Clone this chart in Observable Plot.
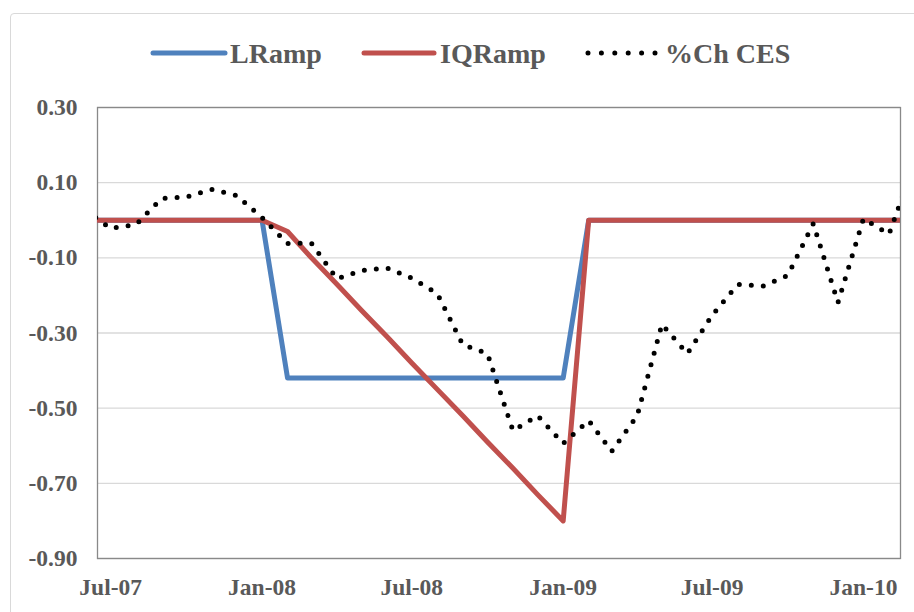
<!DOCTYPE html>
<html>
<head>
<meta charset="utf-8">
<script src="https://cdn.jsdelivr.net/npm/d3@7"></script>
<script src="https://cdn.jsdelivr.net/npm/@observablehq/plot@0.6"></script>
<style>
  html, body { margin: 0; padding: 0; background: #fff; overflow: hidden; }
  #wrap { position: relative; width: 914px; height: 612px; overflow: hidden; }
  #border { position: absolute; left: 10px; top: 13px; width: 940px; height: 640px; border: 1.5px solid #d9d9d9; border-radius: 4px; box-sizing: border-box; pointer-events: none; }
  #legend { display: block; }
  #chart svg { display: block; }
</style>
</head>
<body>
<div id="wrap">
  <div id="legend"></div>
  <div id="chart"></div>
  <div id="border"></div>
</div>
<script>
// ---- data ----
const months = [
  "2007-06","2007-07","2007-08","2007-09","2007-10","2007-11","2007-12",
  "2008-01","2008-02","2008-03","2008-04","2008-05","2008-06","2008-07","2008-08","2008-09","2008-10","2008-11","2008-12",
  "2009-01","2009-02","2009-03","2009-04","2009-05","2009-06","2009-07","2009-08","2009-09","2009-10","2009-11","2009-12",
  "2010-01","2010-02","2010-03"
];
const lramp = [
  0,0,0,0,0,0,0,
  0,-0.42,-0.42,-0.42,-0.42,-0.42,-0.42,-0.42,-0.42,-0.42,-0.42,-0.42,
  -0.42,0,0,0,0,0,0,0,0,0,0,0,
  0,0,0
];
const iqramp = [
  0,0,0,0,0,0,0,
  0,-0.03,-0.10,-0.17,-0.24,-0.31,-0.38,-0.45,-0.52,-0.59,-0.66,-0.73,
  -0.80,0,0,0,0,0,0,0,0,0,0,0,
  0,0,0
];
const ces = [
  0.025,-0.022,-0.011,0.058,0.062,0.082,0.066,
  0.007,-0.062,-0.061,-0.156,-0.134,-0.127,-0.154,-0.195,-0.331,-0.355,-0.56,-0.52,
  -0.594,-0.533,-0.615,-0.52,-0.277,-0.355,-0.253,-0.171,-0.175,-0.147,-0.009,-0.219,
  0.004,-0.037,0.132
];
const seriesNames = ["LRamp", "IQRamp", "%Ch CES"];
const seriesColors = ["#4f81bd", "#c0504d", "#000000"];
const yTicks = [-0.90, -0.70, -0.50, -0.30, -0.10, 0.10, 0.30];
const xTickLabels = ["2007-07","2008-01","2008-07","2009-01","2009-07","2010-01"];
const xDomain = ["2007-06-15", "2010-02-15"];

// ---- build ----
const parseM = d3.utcParse("%Y-%m");
const parseD = d3.utcParse("%Y-%m-%d");
const dates = months.map(parseM);
const rows = (vals) => vals.map((v, i) => ({date: dates[i], value: v}));
const fmtY = d => (d < 0 ? "-" : "") + Math.abs(d).toFixed(2);
const fmtX = d3.utcFormat("%b-%y");

const font = "'Liberation Serif', 'Times New Roman', serif";

// Legend (SVG above the chart)
const legendSvg = d3.create("svg").attr("width", 914).attr("height", 80)
  .style("display", "block");
const items = [
  {name: seriesNames[0], color: seriesColors[0], x0: 153, x1: 225, tx: 230, dotted: false},
  {name: seriesNames[1], color: seriesColors[1], x0: 364, x1: 434, tx: 440, dotted: false},
  {name: seriesNames[2], color: seriesColors[2], x0: 588, x1: 655, tx: 665, dotted: true}
];
for (const it of items) {
  const ln = legendSvg.append("line")
    .attr("x1", it.x0).attr("x2", it.x1).attr("y1", 53).attr("y2", 53)
    .attr("stroke", it.color).attr("stroke-linecap", "round");
  if (it.dotted) ln.attr("stroke-width", 5).attr("stroke-dasharray", "0 13.4");
  else ln.attr("stroke-width", 5);
  legendSvg.append("text")
    .attr("x", it.tx).attr("y", 63)
    .attr("font-family", font).attr("font-weight", "bold").attr("font-size", 28)
    .attr("fill", "#595959")
    .text(it.name);
}
document.getElementById("legend").appendChild(legendSvg.node());

const chart = Plot.plot({
  width: 914,
  height: 532,
  marginLeft: 97,
  marginRight: 14,
  marginTop: 27,
  marginBottom: 54,
  style: {fontFamily: font, fontSize: "23.5px", fontWeight: "bold", color: "#595959", background: "transparent", overflow: "visible"},
  x: {type: "utc", domain: xDomain.map(parseD), ticks: xTickLabels.map(parseM), tickFormat: fmtX, tickSize: 0, tickPadding: 20, label: null},
  y: {domain: [-0.9, 0.3], ticks: yTicks, tickFormat: fmtY, tickSize: 0, tickPadding: 20, label: null},
  marks: [
    Plot.gridY(yTicks, {stroke: "#d9d9d9", strokeOpacity: 1, strokeWidth: 1.3}),
    Plot.frame({stroke: "#898989", strokeWidth: 1.3}),
    Plot.lineY(rows(lramp), {x: "date", y: "value", stroke: seriesColors[0], strokeWidth: 5, strokeLinejoin: "round", strokeLinecap: "round", clip: true}),
    Plot.lineY(rows(iqramp), {x: "date", y: "value", stroke: seriesColors[1], strokeWidth: 5, strokeLinejoin: "round", strokeLinecap: "round", clip: true}),
    Plot.lineY(rows(ces), {x: "date", y: "value", stroke: seriesColors[2], strokeWidth: 5, strokeDasharray: "0 12", strokeLinecap: "round", strokeLinejoin: "round", clip: true})
  ]
});
document.getElementById("chart").appendChild(chart);
</script>
</body>
</html>
